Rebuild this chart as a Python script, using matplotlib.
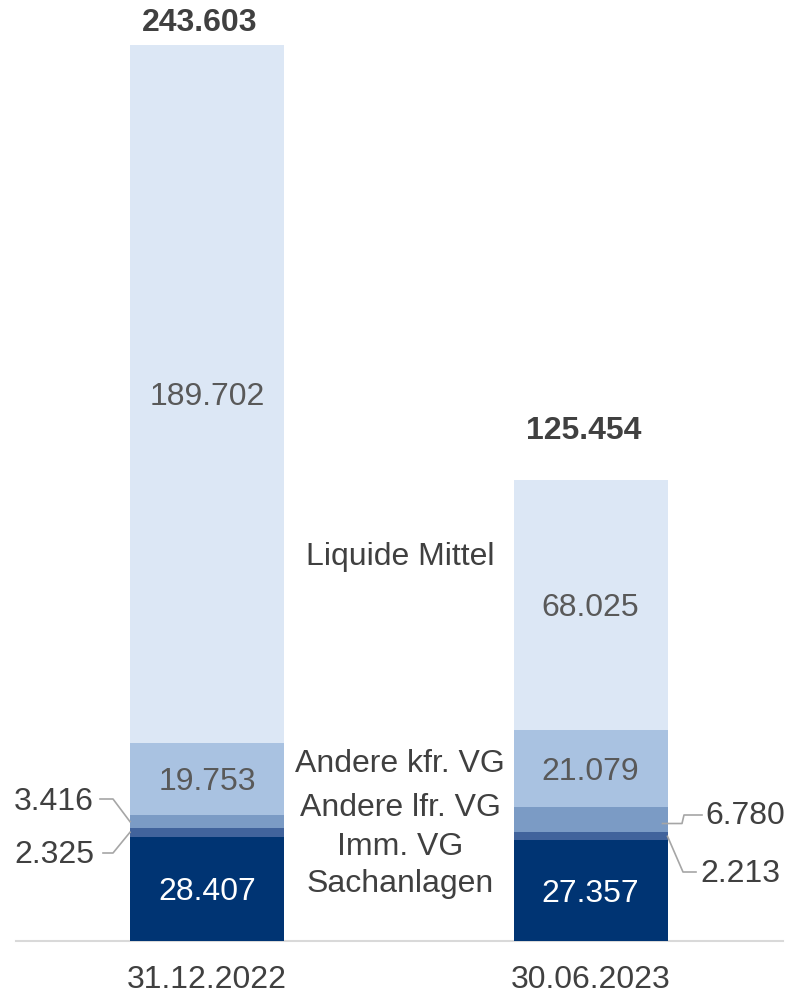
import matplotlib
matplotlib.use("Agg")
import matplotlib.pyplot as plt
import numpy as np

plt.rcParams['font.family'] = ['Liberation Sans', 'DejaVu Sans']

categories = ["31.12.2022", "30.06.2023"]
series_names = ["Sachanlagen", "Imm. VG", "Andere lfr. VG", "Andere kfr. VG", "Liquide Mittel"]
sachanlagen = [28407, 27357]
imm_vg = [2325, 2213]
andere_lfr = [3416, 6780]
andere_kfr = [19753, 21079]
liquide = [189702, 68025]
totals = [243603, 125454]

series = [sachanlagen, imm_vg, andere_lfr, andere_kfr, liquide]
colors = ["#003473", "#41639C", "#7B9BC5", "#A9C2E1", "#DCE7F5"]
text_colors = ["white", None, None, "#595959", "#595959"]

FS = 23

def fmt(v):
    return f"{v:,}".replace(",", ".")

W, H = 789, 994
fig = plt.figure(figsize=(W / 100, H / 100), dpi=100)
base_px = 941
ax = fig.add_axes([0, (H - base_px) / H, 1, base_px / H])
scale = 896 / 243603  # px per unit
ax.set_ylim(0, base_px / scale)
unit = 383.5
ax.set_xlim(-207 / unit, 1 + (W - 590.5) / unit)
ax.axis("off")

DY = 3 / scale  # small text baseline correction

x = np.arange(len(categories))
width = 154 / unit
bottom = np.zeros(len(categories))
for vals, c, tc in zip(series, colors, text_colors):
    ax.bar(x, vals, width, bottom=bottom, color=c, linewidth=0, zorder=2)
    if tc is not None:
        for xi, (b, v) in enumerate(zip(bottom, vals)):
            ax.text(xi, b + v / 2 - DY, fmt(v), ha="center", va="center",
                    fontsize=FS, color=tc, zorder=3)
    bottom = bottom + np.array(vals)

# baseline
ax.axhline(0, xmin=16 / W, xmax=783 / W, color="#D9D9D9", lw=1.5, zorder=1, clip_on=False)

# totals
ax.annotate(fmt(totals[0]), (0, totals[0]), xytext=(-5, 16), textcoords="offset points",
            ha="center", va="center", fontsize=FS, fontweight="bold", color="#404040")
ax.annotate(fmt(totals[1]), (1, totals[1]), xytext=(-5, 35), textcoords="offset points",
            ha="center", va="center", fontsize=FS, fontweight="bold", color="#404040")

# category labels
for xi, cat in enumerate(categories):
    ax.annotate(cat, (xi, 0), xytext=(0, -28), textcoords="offset points",
                ha="center", va="center", fontsize=FS, color="#404040", annotation_clip=False)

def px2x(px):
    return (px - 207) / unit

def py2y(py):
    return (base_px - py) / scale

# middle series labels
mid_labels = [("Liquide Mittel", 557), ("Andere kfr. VG", 764), ("Andere lfr. VG", 808),
              ("Imm. VG", 847), ("Sachanlagen", 884)]
for lab, py in mid_labels:
    ax.text(px2x(400), py2y(py), lab, ha="center", va="center", fontsize=FS, color="#404040")

lc = "#A6A6A6"
# left small labels
lfr_c0 = sachanlagen[0] + imm_vg[0] + andere_lfr[0] / 2
imm_c0 = sachanlagen[0] + imm_vg[0] / 2
left_edge = -width / 2
ax.plot([px2x(100), px2x(113), left_edge], [py2y(799), py2y(799), lfr_c0], color=lc, lw=1.2, zorder=4)
ax.text(px2x(94), py2y(802), fmt(andere_lfr[0]), ha="right", va="center", fontsize=FS, color="#404040")
ax.plot([px2x(103), px2x(113), left_edge], [py2y(853), py2y(853), imm_c0], color=lc, lw=1.2, zorder=4)
ax.text(px2x(94), py2y(855), fmt(imm_vg[0]), ha="right", va="center", fontsize=FS, color="#404040")

# right small labels
lfr_c1 = sachanlagen[1] + imm_vg[1] + andere_lfr[1] * 0.35
imm_c1 = sachanlagen[1] + imm_vg[1] / 2
right_edge = 1 + width / 2
ax.plot([1 + width / 2 - 5 / unit, px2x(682), px2x(684), px2x(702)],
        [lfr_c1, lfr_c1, py2y(815), py2y(815)], color=lc, lw=1.2, zorder=4)
ax.text(px2x(705), py2y(816), fmt(andere_lfr[1]), ha="left", va="center", fontsize=FS, color="#404040")
ax.plot([right_edge, px2x(683), px2x(696)], [imm_c1, py2y(872), py2y(872)], color=lc, lw=1.2, zorder=4)
ax.text(px2x(700), py2y(874), fmt(imm_vg[1]), ha="left", va="center", fontsize=FS, color="#404040")

fig.savefig("out.png", dpi=100)
